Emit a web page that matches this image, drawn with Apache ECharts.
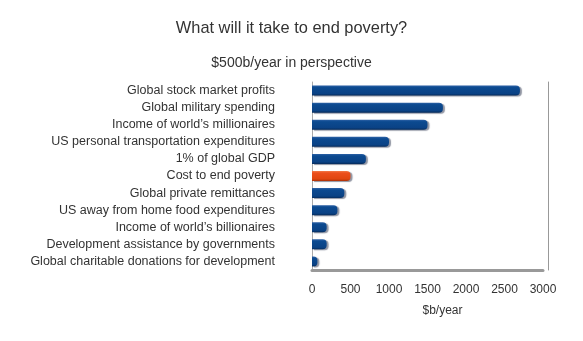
<!DOCTYPE html>
<html><head><meta charset="utf-8">
<script src="https://cdn.jsdelivr.net/npm/echarts@6/dist/echarts.min.js"></script>
<style>html,body{margin:0;padding:0;background:#fff}#c{width:583px;height:341px}</style>
</head><body><div id="c"></div>
<script>
const categories = [
  "Global stock market profits",
  "Global military spending",
  "Income of world’s millionaires",
  "US personal transportation expenditures",
  "1% of global GDP",
  "Cost to end poverty",
  "Global private remittances",
  "US away from home food expenditures",
  "Income of world’s billionaires",
  "Development assistance by governments",
  "Global charitable donations for development"
];
const values = [2700, 1700, 1500, 1000, 700, 500, 420, 330, 190, 190, 70];
const highlight = "Cost to end poverty";
const xTicks = [0, 500, 1000, 1500, 2000, 2500, 3000];

const blue = new echarts.graphic.LinearGradient(0,0,0,1,[
  {offset:0,color:'#2e62a6'},{offset:0.2,color:'#0c4a90'},{offset:0.8,color:'#0a4285'},{offset:1,color:'#062c5c'}]);
const orange = new echarts.graphic.LinearGradient(0,0,0,1,[
  {offset:0,color:'#f27a48'},{offset:0.2,color:'#ec4f1c'},{offset:0.8,color:'#e0460f'},{offset:1,color:'#a83008'}]);

const chart = echarts.init(document.getElementById('c'), null, {renderer:'canvas'});
chart.setOption({
  animation:false,
  title:[
    {text:'What will it take to end poverty?', left:'center', top:15,
     textStyle:{fontFamily:'Liberation Sans', fontSize:16.4, fontWeight:'normal', color:'#333'}},
    {text:'$500b/year in perspective', left:'center', top:51,
     textStyle:{fontFamily:'Liberation Sans', fontSize:14, fontWeight:'normal', color:'#333'}}
  ],
  grid:{left:312, right:40, top:82, bottom:71, containLabel:false},
  xAxis:{type:'value', min:xTicks[0], max:xTicks[xTicks.length-1], interval:500,
    name:'$b/year', nameLocation:'middle', nameGap:35,
    nameTextStyle:{fontFamily:'Liberation Sans', fontSize:12, color:'#333', padding:[0,0,0,30]},
    axisLine:{show:true, lineStyle:{color:'#999', width:3}},
    axisTick:{show:false}, splitLine:{show:false},
    axisLabel:{margin:14, fontFamily:'Liberation Sans', fontSize:12, color:'#333', formatter: v => String(v)}},
  yAxis:[
    {type:'category', data:categories, inverse:true,
     axisLine:{show:true, lineStyle:{color:'#aaa', width:1}},
     axisTick:{show:false},
     axisLabel:{margin:37, fontFamily:'Liberation Sans', fontSize:12.5, color:'#333'}},
    {type:'category', data:categories, inverse:true, position:'right', offset:5,
     axisLine:{show:true, lineStyle:{color:'#999', width:1}},
     axisTick:{show:false}, axisLabel:{show:false}}
  ],
  series:[{
    type:'bar', barWidth:10,
    data: values.map((v,i)=>({value:v, itemStyle:{color: categories[i]===highlight ? orange : blue}})),
    itemStyle:{borderRadius:[0,4,4,0], shadowColor:'rgba(10,20,50,0.45)', shadowBlur:1, shadowOffsetX:2, shadowOffsetY:1}
  }]
});
</script></body></html>
